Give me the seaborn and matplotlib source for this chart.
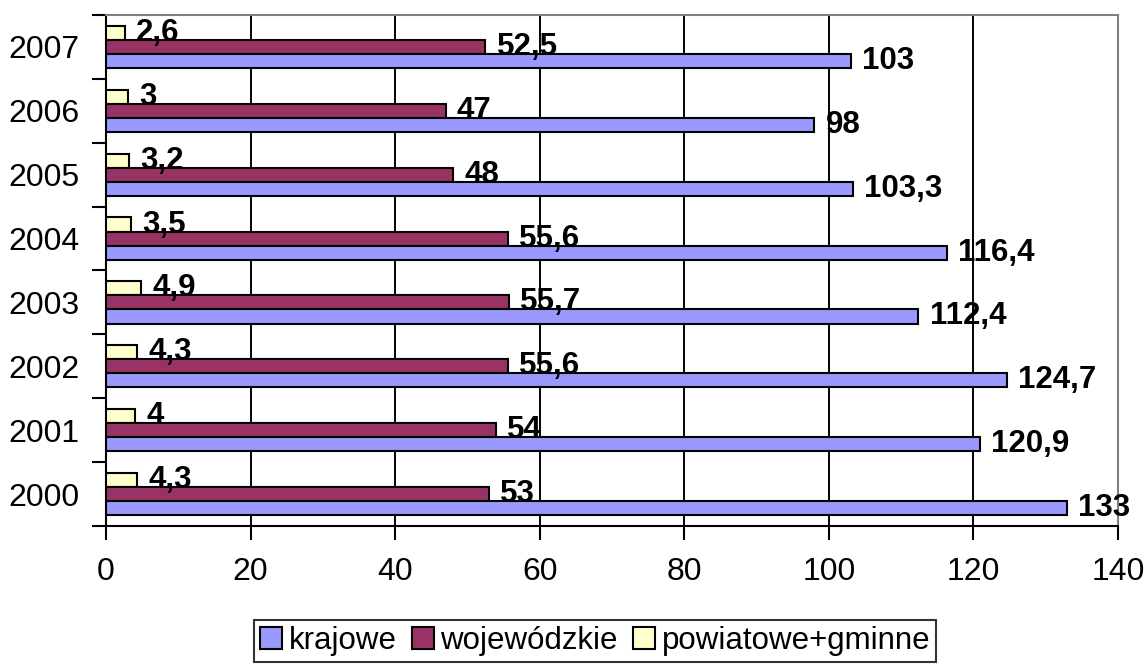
import matplotlib
matplotlib.use("Agg")
import matplotlib.pyplot as plt
from matplotlib.patches import Patch
import seaborn as sns
import pandas as pd

years = ["2007", "2006", "2005", "2004", "2003", "2002", "2001", "2000"]
krajowe = [103, 98, 103.3, 116.4, 112.4, 124.7, 120.9, 133]
wojewodzkie = [52.5, 47, 48, 55.6, 55.7, 55.6, 54, 53]
powiatowe = [2.6, 3, 3.2, 3.5, 4.9, 4.3, 4, 4.3]
series_names = ["krajowe", "wojewódzkie", "powiatowe+gminne"]
colors = {"krajowe": "#9999FF", "wojewódzkie": "#993366", "powiatowe+gminne": "#FFFFCC"}
x_ticks = [0, 20, 40, 60, 80, 100, 120, 140]

rows = []
for name, vals in zip(series_names, [krajowe, wojewodzkie, powiatowe]):
    for y, v in zip(years, vals):
        rows.append({"rok": y, "seria": name, "wartosc": v})
df = pd.DataFrame(rows)

sns.set_theme(style="white")
plt.rcParams["font.family"] = ["Liberation Sans", "DejaVu Sans"]
plt.rcParams["text.color"] = "black"
plt.rcParams["xtick.color"] = "black"
plt.rcParams["ytick.color"] = "black"
plt.rcParams["xtick.labelcolor"] = "black"
plt.rcParams["ytick.labelcolor"] = "black"

fig = plt.figure(figsize=(11.47, 6.66), dpi=100)
ax = fig.add_axes([0.0924, 0.2102, 0.9747 - 0.0924, 0.9775 - 0.2102])

hue_order = ["powiatowe+gminne", "wojewódzkie", "krajowe"]
sns.barplot(data=df, y="rok", x="wartosc", hue="seria", order=years,
            hue_order=hue_order, palette=colors, orient="h", width=0.66,
            saturation=1, edgecolor="black", linewidth=1.5, errorbar=None,
            ax=ax, legend=False, zorder=3)

def fmt(v):
    s = f"{v:.1f}"
    if s.endswith(".0"):
        s = s[:-2]
    return s.replace(".", ",")

for cont in ax.containers:
    ax.bar_label(cont, labels=[fmt(b.get_width()) for b in cont], padding=8,
                 fontsize=22.5, fontweight="bold", color="black", zorder=5)

ax.set_xlim(0, 140)
ax.set_ylim(len(years) - 0.5, -0.5)
ax.set_xticks(x_ticks)
ax.set_xticklabels([str(t) for t in x_ticks], fontsize=23)
ax.set_xlabel("")
ax.set_ylabel("")
ax.tick_params(axis="y", which="major", length=0, pad=19, labelsize=23)
ax.set_yticks([i - 0.5 for i in range(len(years) + 1)], minor=True)
ax.tick_params(axis="y", which="minor", length=10, width=1.5, direction="out", color="black", left=True)
ax.tick_params(axis="x", which="major", length=10, width=1.5, direction="out", color="black", pad=12, bottom=True)

for t in x_ticks[1:-1]:
    ax.axvline(t, color="black", linewidth=1.4, zorder=1)

for s in ["left", "bottom"]:
    ax.spines[s].set_color("black")
    ax.spines[s].set_linewidth(1.5)
for s in ["top", "right"]:
    ax.spines[s].set_color("#808080")
    ax.spines[s].set_linewidth(1.5)

handles = [Patch(facecolor=colors[n], edgecolor="black", linewidth=1.5, label=n) for n in series_names]
leg = fig.legend(handles=handles, loc="center", bbox_to_anchor=(0.519, 0.0375), ncol=3,
                 fontsize=22.5, frameon=True, fancybox=False, edgecolor="black",
                 handlelength=0.7, handleheight=0.7, handletextpad=0.2, columnspacing=0.5,
                 borderpad=0.2, borderaxespad=0)
leg.get_frame().set_linewidth(1.5)

fig.savefig("out.png", dpi=100)
